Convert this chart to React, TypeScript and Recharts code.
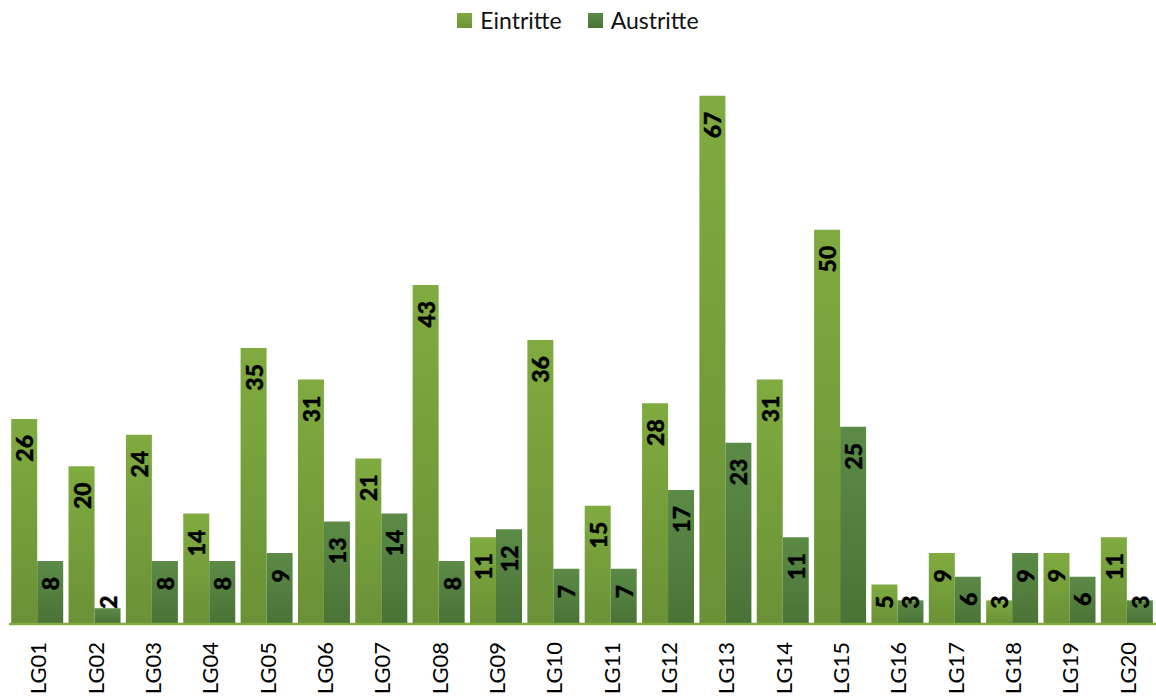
import React from 'react';
import { BarChart, Bar, XAxis, YAxis, Legend } from 'recharts';

const categories = ['LG01', 'LG02', 'LG03', 'LG04', 'LG05', 'LG06', 'LG07', 'LG08', 'LG09', 'LG10',
    'LG11', 'LG12', 'LG13', 'LG14', 'LG15', 'LG16', 'LG17', 'LG18', 'LG19', 'LG20'];
const eintritte = [26, 20, 24, 14, 35, 31, 21, 43, 11, 36, 15, 28, 67, 31, 50, 5, 9, 3, 9, 11];
const austritte = [8, 2, 8, 8, 9, 13, 14, 8, 12, 7, 7, 17, 23, 11, 25, 3, 6, 9, 6, 3];

const data = categories.map((name, i) => ({ name, eintritte: eintritte[i], austritte: austritte[i] }));

const FONT = 'Lato, "Open Sans", sans-serif';
const BASELINE = 624;
const LEGEND_H = 30;

const renderLabel = (props: any) => {
    const { x, y, width, value } = props;
    const cx = x + width / 2;
    const textLen = String(value).length * 13;
    // end of the rotated text sits a little below the bar top
    let end = y + 16;
    const center = Math.min(end + textLen / 2, BASELINE - 22);
    end = center - textLen / 2;
    return (
        <text
            x={cx}
            y={end}
            transform={`rotate(-90, ${cx}, ${end})`}
            textAnchor="end"
            dominantBaseline="central"
            fontFamily={FONT}
            fontWeight={900}
            fontSize={23}
            fill="#000"
            stroke="#000"
            strokeWidth={0.4}
        >
            {value}
        </text>
    );
};

const CategoryTick = (props: any) => {
    const { x, payload } = props;
    const ty = BASELINE + 18;
    return (
        <text
            x={x}
            y={ty}
            transform={`rotate(-90, ${x}, ${ty})`}
            textAnchor="end"
            dominantBaseline="central"
            fontFamily={FONT}
            fontSize={22}
            fill="#000"
        >
            {payload.value}
        </text>
    );
};

const LegendContent = () => (
    <div style={{ height: LEGEND_H, display: 'flex', justifyContent: 'center', alignItems: 'center', fontFamily: FONT, fontSize: 23, color: '#111' }}>
        <div style={{ display: 'flex', alignItems: 'center', marginRight: 26 }}>
            <span style={{ width: 15, height: 15, background: 'linear-gradient(#80ab40, #6d9438)', marginRight: 8, display: 'inline-block' }} />
            Eintritte
        </div>
        <div style={{ display: 'flex', alignItems: 'center' }}>
            <span style={{ width: 15, height: 15, background: 'linear-gradient(#5b8b47, #4a7336)', marginRight: 8, display: 'inline-block' }} />
            Austritte
        </div>
    </div>
);

const App: React.FC = () => {
    return (
        <div style={{ position: 'absolute', left: 0, top: 0, background: '#fff' }}>
            <BarChart
                width={1156}
                height={697}
                data={data}
                margin={{ top: 72 - LEGEND_H, right: 0, left: 9, bottom: 0 }}
                barCategoryGap={2.2}
                barGap={0}
            >
                <defs>
                    <linearGradient id="gradIn" x1="0" y1="0" x2="0" y2="1">
                        <stop offset="0%" stopColor="#80ab40" />
                        <stop offset="100%" stopColor="#6a9136" />
                    </linearGradient>
                    <linearGradient id="gradOut" x1="0" y1="0" x2="0" y2="1">
                        <stop offset="0%" stopColor="#5b8b47" />
                        <stop offset="100%" stopColor="#4a7336" />
                    </linearGradient>
                </defs>
                <Legend verticalAlign="top" align="center" height={LEGEND_H} content={LegendContent} wrapperStyle={{ top: 5, left: 0, width: 1156 }} />
                <XAxis
                    dataKey="name"
                    height={73}
                    tickLine={false}
                    tickSize={0}
                    axisLine={{ stroke: '#7fab3f', strokeWidth: 2.5 }}
                    tick={CategoryTick}
                    interval={0}
                />
                <YAxis hide domain={[0, 70]} allowDataOverflow />
                <Bar dataKey="eintritte" name="Eintritte" fill="url(#gradIn)" isAnimationActive={false} label={renderLabel} />
                <Bar dataKey="austritte" name="Austritte" fill="url(#gradOut)" isAnimationActive={false} label={renderLabel} />
            </BarChart>
        </div>
    );
};

export default App;
